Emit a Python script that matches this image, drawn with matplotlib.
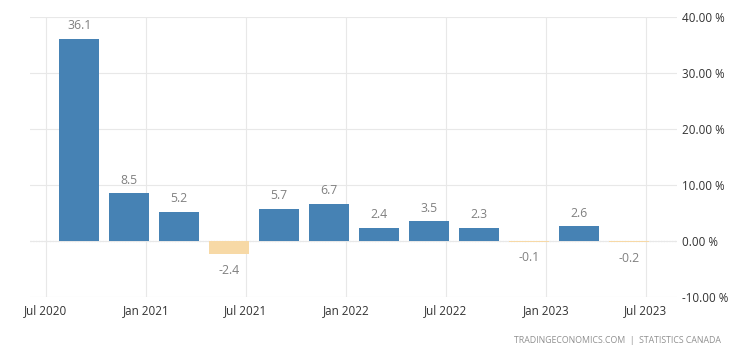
import matplotlib
matplotlib.use('AGG')
import matplotlib.pyplot as plt

plt.rcParams['font.family'] = ['Open Sans', 'DejaVu Sans']

# quarterly GDP growth (annualized, %), Q3 2020 .. Q2 2023
quarters = ['Q3 2020', 'Q4 2020', 'Q1 2021', 'Q2 2021', 'Q3 2021', 'Q4 2021',
            'Q1 2022', 'Q2 2022', 'Q3 2022', 'Q4 2022', 'Q1 2023', 'Q2 2023']
values = [36.1, 8.5, 5.2, -2.4, 5.7, 6.7, 2.4, 3.5, 2.3, -0.1, 2.6, -0.2]
# bar positions in months after Jul 2020
months = [2, 5, 8, 11, 14, 17, 20, 23, 26, 29, 32, 35]
tick_months = [0, 6, 12, 18, 24, 30, 36]
tick_labels = ['Jul 2020', 'Jan 2021', 'Jul 2021', 'Jan 2022', 'Jul 2022', 'Jan 2023', 'Jul 2023']
y_ticks = [-10, 0, 10, 20, 30, 40]

fig = plt.figure(figsize=(7.53, 3.57), dpi=100)
ax = fig.add_axes([0.0398, 0.168, 0.859, 0.784])

colors = ['#4682b4' if v >= 0 else '#f7d9a6' for v in values]
ax.bar(months, values, width=2.4, color=colors, zorder=3)

for m, v in zip(months, values):
    off = 9.5 if v >= 0 else -11.5
    ax.annotate(f'{v:.1f}', (m, v), xytext=(0, off), textcoords='offset points',
                ha='center', va='center', fontsize=8.8, color='#808080')

ax.set_xlim(-0.96, 37.86)
ax.set_ylim(-10, 40)
ax.set_xticks(tick_months)
ax.set_xticklabels(tick_labels)
ax.set_yticks(y_ticks)
ax.set_yticklabels([f'{t:.2f} %' for t in y_ticks])
ax.yaxis.tick_right()
ax.tick_params(axis='both', length=0, labelsize=8.4, colors='#333333')
ax.tick_params(axis='x', pad=5)
ax.tick_params(axis='y', pad=4)

ax.grid(True, color='#e8e8e8', linewidth=0.8, zorder=0)
ax.axhline(0, color='#c8c8c8', linewidth=0.8, linestyle=(0, (1, 1.5)), zorder=1)
for s in ax.spines.values():
    s.set_visible(False)

fig.text(0.958, 0.045, 'TRADINGECONOMICS.COM  |  STATISTICS CANADA', ha='right',
         va='center', fontsize=6.3, color='#909090')

fig.savefig('out.png', dpi=100)
